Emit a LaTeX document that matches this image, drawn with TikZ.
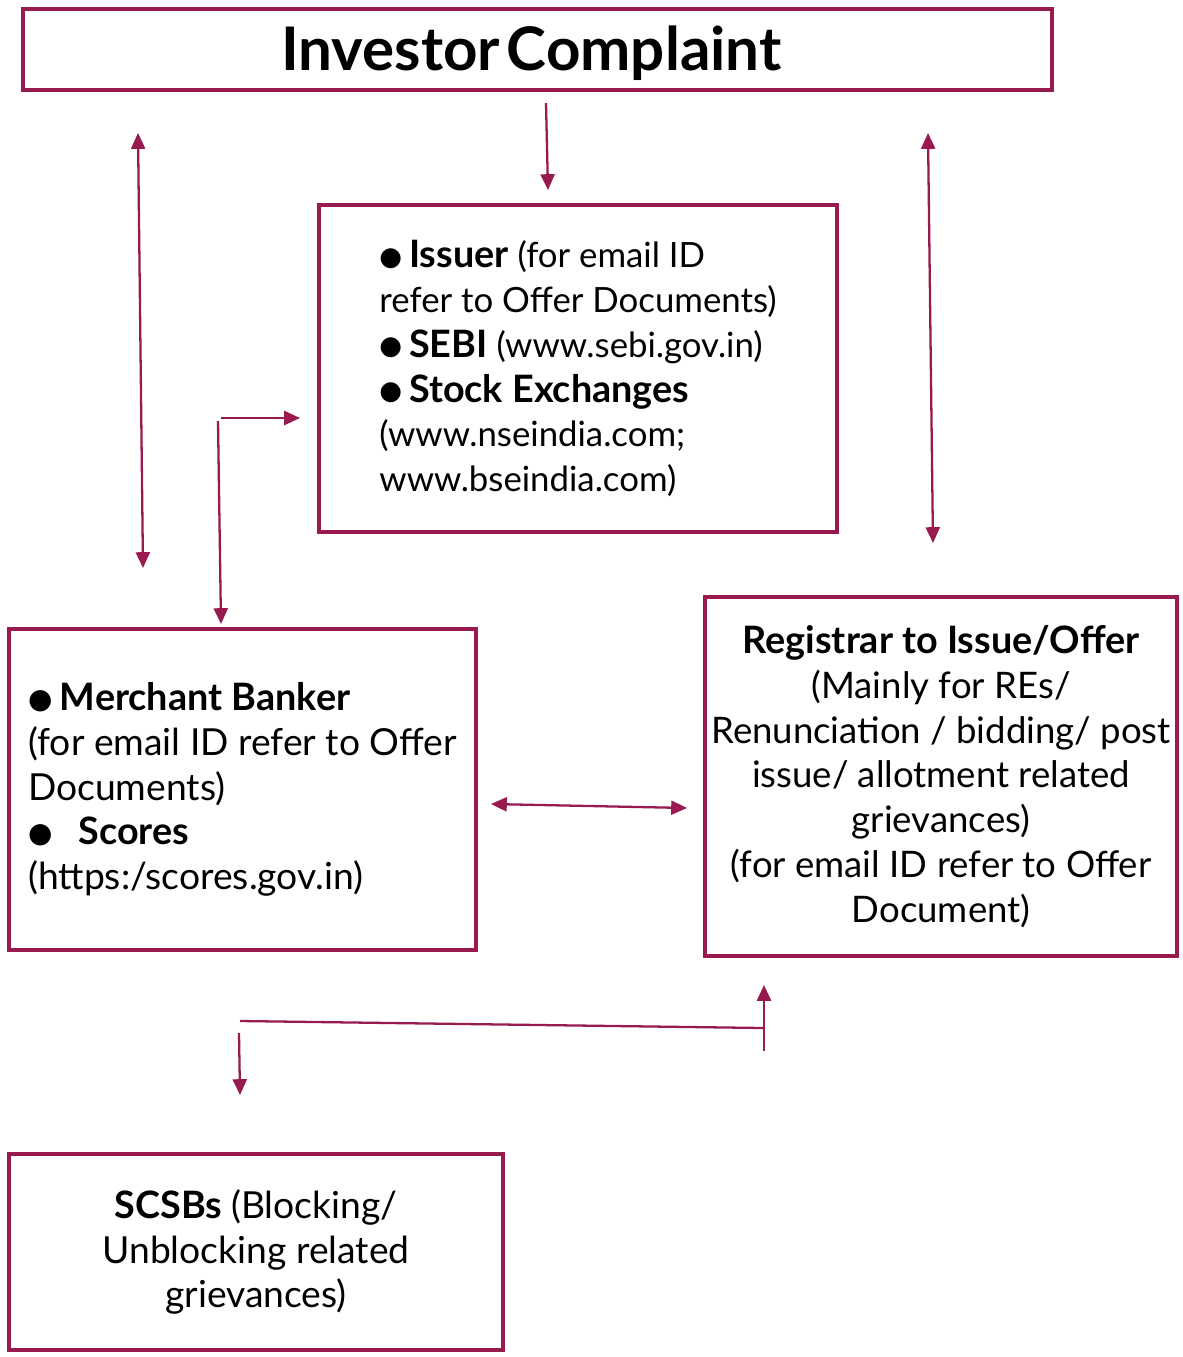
\documentclass[tikz,border=0pt]{standalone}
\usepackage{fontspec}
\setmainfont{Lato}
\newfontfamily\symfont{DejaVu Sans}
\usepackage{tikz}
\usetikzlibrary{arrows.meta}
\definecolor{claret}{RGB}{152, 26, 78}
\newcommand{\bul}{\raisebox{1.4pt}{\symfont\scalebox{0.75}{●}}}
\newcommand{\hd}[1]{{\fontsize{21.5}{25.5}\selectfont\bfseries #1}}
\tikzset{
    box/.style={draw=claret, line width=2.3pt, inner sep=0pt, text=black,
        font=\fontsize{21.2}{25.5}\selectfont},
    link/.style={draw=claret, line width=1.3pt},
    tip/.style={-{Triangle[length=9pt,width=8pt]}},
    tips/.style={{Triangle[length=9pt,width=8pt]}-{Triangle[length=9pt,width=8pt]}}
}

\begin{document}
\begin{tikzpicture}[x=0.02cm, y=-0.02cm]
            \useasboundingbox (0,0) rectangle (1183,1357);
            % boxes
            \node[box, minimum width=20.58cm, minimum height=1.62cm,
                  font=\fontsize{34.2}{40}\selectfont\bfseries]           (complaint) at ( 537.5,   49.5)
                 {\hspace*{-7pt}\raisebox{-2.2pt}[\height][\depth]{Investor\hspace{0.11em}Complaint}};
            \node[box, minimum width=10.36cm, minimum height=6.54cm, align=left,
                  font=\fontsize{19.8}{25.5}\selectfont]                  (issuer) at ( 578.0,  368.5)
                 {\bul\hspace{0.2em}\hd{Issuer} (for email ID\\ refer to Offer Documents)\\
                  \bul\hspace{0.2em}\hd{SEBI} (www.sebi.gov.in)\\ \bul\hspace{0.2em}\hd{Stock Exchanges}\\
                  (www.nseindia.com;\\ www.bseindia.com)};
            \node[box, minimum width=9.34cm,  minimum height=6.42cm, align=left] (banker) at ( 242.5,  789.5)
                 {\bul\hspace{0.2em}\hd{Merchant Banker}\\ (for email ID refer to Offer\\ Documents)\\
                  \bul\hspace{0.7em}\hd{Scores}\\ (https:/scores.gov.in)};
            \node[box, minimum width=9.44cm,  minimum height=7.18cm, align=center,
                  font=\fontsize{20.8}{25.5}\selectfont]                  (registrar) at ( 941.0,  776.5)
                 {\hd{Registrar to Issue/Offer}\\ (Mainly for REs/\\ Renunciation / bidding/ post\\
                  issue/ allotment related\\ grievances)\\ (for email ID refer to Offer\\ Document)};
            \node[box, minimum width=9.88cm,  minimum height=3.92cm, align=center] (scsb) at ( 256.0, 1252.0)
                 {\hd{SCSBs} (Blocking/\\ Unblocking related\\ grievances)};
            % loose ends of the connectors
            \coordinate (lefttop)     at (138,  133);
            \coordinate (leftbot)     at (143,  568);
            \coordinate (midtop)      at (546,  103);
            \coordinate (midbot)      at (548,  190);
            \coordinate (righttop)    at (928,  133);
            \coordinate (rightbot)    at (933,  543);
            \coordinate (elbowh)      at (221,  418);
            \coordinate (elbowhend)   at (300,  418);
            \coordinate (elbowv)      at (218,  421);
            \coordinate (elbowvend)   at (221,  624);
            \coordinate (crossleft)   at (491,  804);
            \coordinate (crossright)  at (687,  808);
            \coordinate (lowleft)     at (240, 1021);
            \coordinate (lowright)    at (763, 1028);
            \coordinate (upfoot)      at (764, 1051);
            \coordinate (uphead)      at (764,  985);
            \coordinate (downfoot)    at (239, 1033);
            \coordinate (downhead)    at (240, 1095);
            % connectors
            \draw[link, tips] (lefttop)    -- (leftbot);
            \draw[link, tip]  (midtop)     -- (midbot);
            \draw[link, tips] (righttop)   -- (rightbot);
            \draw[link, tip]  (elbowh)     -- (elbowhend);
            \draw[link, tip]  (elbowv)     -- (elbowvend);
            \draw[link, tips] (crossleft)  -- (crossright);
            \draw[link]       (lowleft)    -- (lowright);
            \draw[link, tip]  (upfoot)     -- (uphead);
            \draw[link, tip]  (downfoot)   -- (downhead);
        \end{tikzpicture}
\end{document}
